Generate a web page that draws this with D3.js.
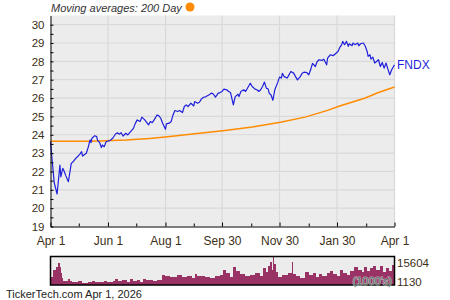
<!DOCTYPE html>
<html>
<head lang="en">
	<meta charset="UTF-8">
	<title>FNDX</title>
	<style>
	body { margin: 0; background: #fff; }
	svg text { font-family: "Liberation Sans", Arial, sans-serif; }
	.axis text { fill: #3c2f16; font-size: 11.5px; }
	.axis.x text { font-size: 12px; }
	.axis path, .axis line { stroke: #000; }
	.grid line { stroke: #d9d9d9; stroke-width: 1.2; }
	</style>
	<script src="https://cdn.jsdelivr.net/npm/d3@7"></script>
</head>
<body>
<script>
	// price (daily-ish closes)
	var priceDates = [
		"2025-04-01","2025-04-03","2025-04-05","2025-04-08","2025-04-11","2025-04-12","2025-04-14","2025-04-15",
		"2025-04-17","2025-04-20","2025-04-23","2025-04-25","2025-04-28","2025-05-02","2025-05-04","2025-05-05",
		"2025-05-09","2025-05-11","2025-05-13","2025-05-14","2025-05-15","2025-05-18","2025-05-20","2025-05-21",
		"2025-05-23","2025-05-25","2025-05-26","2025-05-28","2025-05-30","2025-06-01","2025-06-03","2025-06-06",
		"2025-06-09","2025-06-11","2025-06-13","2025-06-15","2025-06-17","2025-06-20","2025-06-22","2025-06-25",
		"2025-06-28","2025-06-30","2025-07-02","2025-07-05","2025-07-07","2025-07-10","2025-07-14","2025-07-16",
		"2025-07-18","2025-07-20","2025-07-23","2025-07-25","2025-07-27","2025-07-29","2025-08-01","2025-08-02",
		"2025-08-05","2025-08-07","2025-08-09","2025-08-11","2025-08-14","2025-08-16","2025-08-19","2025-08-21",
		"2025-08-23","2025-08-25","2025-08-28","2025-08-31","2025-09-01","2025-09-04","2025-09-06","2025-09-08",
		"2025-09-10","2025-09-13","2025-09-16","2025-09-19","2025-09-21","2025-09-23","2025-09-26","2025-09-28",
		"2025-09-30","2025-10-02","2025-10-05","2025-10-07","2025-10-09","2025-10-12","2025-10-14","2025-10-17",
		"2025-10-18","2025-10-20","2025-10-23","2025-10-25","2025-10-28","2025-10-30","2025-11-01","2025-11-04",
		"2025-11-06","2025-11-08","2025-11-10","2025-11-12","2025-11-14","2025-11-16","2025-11-18","2025-11-19",
		"2025-11-21","2025-11-23","2025-11-25","2025-11-28","2025-11-30","2025-12-02","2025-12-03","2025-12-05",
		"2025-12-08","2025-12-09","2025-12-12","2025-12-15","2025-12-17","2025-12-19","2025-12-22","2025-12-24",
		"2025-12-26","2025-12-29","2025-12-31","2026-01-02","2026-01-04","2026-01-07","2026-01-09","2026-01-11",
		"2026-01-14","2026-01-16","2026-01-19","2026-01-20","2026-01-23","2026-01-26","2026-01-28","2026-01-31",
		"2026-02-02","2026-02-04","2026-02-05","2026-02-07","2026-02-09","2026-02-11","2026-02-12","2026-02-15",
		"2026-02-16","2026-02-18","2026-02-21","2026-02-22","2026-02-24","2026-02-27","2026-03-01","2026-03-03",
		"2026-03-04","2026-03-06","2026-03-07","2026-03-09","2026-03-11","2026-03-13","2026-03-15","2026-03-17",
		"2026-03-19","2026-03-21","2026-03-23","2026-03-25","2026-03-27","2026-03-29","2026-03-31","2026-04-01"
	];
	var prices = [
		23.62,22.46,21.37,20.77,22.35,21.70,22.17,22.08,
		21.80,21.44,22.44,22.53,22.72,22.93,23.08,22.84,
		22.99,23.32,23.72,23.57,23.81,23.95,23.90,23.68,
		23.59,23.30,23.44,23.35,23.62,23.66,23.68,23.81,
		24.04,24.11,24.03,24.11,23.93,24.08,23.99,24.17,
		24.35,24.62,24.81,24.72,24.96,24.81,24.54,24.72,
		24.66,24.81,25.08,25.03,24.90,24.63,24.30,24.59,
		24.63,24.72,25.08,25.32,25.27,25.32,25.21,25.54,
		25.63,25.54,25.72,25.57,25.81,25.72,25.77,25.94,
		26.03,26.08,26.17,26.27,26.21,26.05,26.27,26.30,
		26.36,26.49,26.45,26.36,26.30,25.63,26.08,26.21,
		26.08,26.36,26.45,26.36,26.63,26.81,26.63,26.49,
		26.45,26.36,26.45,26.63,26.87,26.54,26.49,26.27,
		26.17,25.88,26.45,26.84,27.14,27.09,27.35,27.17,
		27.09,27.17,27.45,27.36,27.17,26.99,27.17,27.35,
		27.41,27.39,27.27,27.54,27.89,27.72,27.99,28.09,
		28.05,28.12,27.81,28.18,28.36,28.31,28.40,28.54,
		28.76,28.91,29.09,28.91,29.09,28.82,28.96,28.85,
		29.00,28.91,29.00,28.85,28.96,29.00,28.82,28.54,
		28.27,28.36,28.12,28.23,27.91,27.99,28.09,27.72,
		27.94,27.63,27.91,27.58,27.27,27.54,27.72,27.81
	];

	// 200 day moving average
	var maDates = ["2025-04-01","2025-05-15","2025-06-20","2025-07-15","2025-08-01","2025-09-01","2025-10-01",
		"2025-11-01","2025-12-01","2025-12-27","2026-01-20","2026-02-01","2026-03-01","2026-03-15","2026-04-01"];
	var maValues = [23.64,23.65,23.71,23.80,23.88,24.05,24.22,24.42,24.68,24.96,25.33,25.55,26.00,26.30,26.60];

	// volume (1000's), each value holds until the next date
	var volDates = [
		"2025-04-01","2025-04-04","2025-04-07","2025-04-09","2025-04-11","2025-04-12","2025-04-13","2025-04-14",
		"2025-04-16","2025-04-20","2025-04-22","2025-04-24","2025-04-30","2025-05-04","2025-05-05","2025-05-06",
		"2025-05-11","2025-05-15","2025-05-18","2025-05-24","2025-05-28","2025-05-31","2025-06-06","2025-06-08",
		"2025-06-12","2025-06-16","2025-06-21","2025-06-24","2025-06-28","2025-07-02","2025-07-05","2025-07-08",
		"2025-07-11","2025-07-16","2025-07-19","2025-07-23","2025-07-28","2025-08-01","2025-08-06","2025-08-13",
		"2025-08-19","2025-08-24","2025-08-29","2025-09-01","2025-09-03","2025-09-12","2025-09-17","2025-09-23",
		"2025-09-28","2025-10-01","2025-10-04","2025-10-08","2025-10-12","2025-10-15","2025-10-19","2025-10-24",
		"2025-10-30","2025-11-04","2025-11-09","2025-11-12","2025-11-16","2025-11-18","2025-11-20","2025-11-22",
		"2025-11-23","2025-11-24","2025-11-26","2025-11-28","2025-12-03","2025-12-09","2025-12-13","2025-12-14",
		"2025-12-17","2025-12-22","2025-12-27","2025-12-31","2026-01-05","2026-01-08","2026-01-11","2026-01-14",
		"2026-01-19","2026-01-23","2026-01-26","2026-01-30","2026-02-02","2026-02-05","2026-02-10","2026-02-13",
		"2026-02-17","2026-02-21","2026-02-25","2026-02-28","2026-03-03","2026-03-06","2026-03-09","2026-03-12",
		"2026-03-17","2026-03-20","2026-03-23","2026-03-26","2026-03-29","2026-03-31"
	];
	var volumes = [
		4400,8300,9900,12100,9900,6600,3900,2400,
		2200,3300,2200,1700,2200,1200,15150,1200,
		1700,2200,1700,1400,2200,1700,2500,3300,
		2500,2750,1900,3300,2200,3000,1900,3600,
		2750,2750,2500,3000,5500,5000,4400,5500,
		4400,5000,3900,6100,5000,4400,3900,5000,
		5500,8300,6600,4400,9900,7700,6100,5000,
		5500,6600,5000,9400,7200,10500,12700,8300,
		15604,11600,7200,4400,5500,6600,12700,6100,
		5000,3900,7200,5500,6600,4400,6100,5000,
		6600,7700,6100,5000,8300,6600,5500,7700,
		9900,8300,7200,9900,7700,9400,10500,8300,
		10500,7200,9400,7700,11000,1130
	];

	var xTickDates = ["2025-04-01","2025-05-01","2025-06-01","2025-07-01","2025-08-01","2025-08-31","2025-09-30",
		"2025-10-31","2025-11-30","2025-12-31","2026-01-30","2026-03-02","2026-04-01"];
	var xTickLabels = ["Apr 1","","Jun 1","","Aug 1","","Sep 30","","Nov 30","","Jan 30","","Apr 1"];
	var volLabels = [15604, 1130];

	window.onload = function(){
		var width = 450, height = 300;
		var parse = d3.timeParse("%Y-%m-%d");
		var start = parse("2025-04-01"), end = parse("2026-04-01");

		var svg = d3.select("body").append("svg")
			.attr("width", width)
			.attr("height", height);

		var x = d3.scaleTime().domain([start, end]).range([50.5, 394.5]);
		var y = d3.scaleLinear().domain([19, 30.5]).range([226.5, 15.5]);
		var yv = d3.scaleLinear().domain([0, 15604]).range([285, 257]);

		// plot background
		svg.append("rect")
			.attr("x", x.range()[0]).attr("y", y.range()[1])
			.attr("width", x.range()[1] - x.range()[0])
			.attr("height", y.range()[0] - y.range()[1])
			.attr("fill", "#ececec");

		// grid
		var grid = svg.append("g").attr("class", "grid");
		grid.selectAll(".h").data(d3.range(20, 31)).enter().append("line")
			.attr("x1", x.range()[0]).attr("x2", x.range()[1])
			.attr("y1", function(d){ return y(d); })
			.attr("y2", function(d){ return y(d); });
		var tickDates = xTickDates.map(parse);
		grid.selectAll(".v").data(tickDates.filter(function(d, i){ return i > 0 && xTickLabels[i]; }))
			.enter().append("line")
			.attr("x1", function(d){ return x(d); })
			.attr("x2", function(d){ return x(d); })
			.attr("y1", y.range()[1]).attr("y2", y.range()[0]);

		// moving average
		var ma = maDates.map(function(d, i){ return [parse(d), maValues[i]]; });
		svg.append("path").datum(ma)
			.attr("fill", "none")
			.attr("stroke", "#ff8c00")
			.attr("stroke-width", 1.5)
			.attr("d", d3.line().x(function(d){ return x(d[0]); }).y(function(d){ return y(d[1]); }));

		// price line
		var px = priceDates.map(function(d, i){ return [parse(d), prices[i]]; });
		svg.append("path").datum(px)
			.attr("fill", "none")
			.attr("stroke", "#1f1fdc")
			.attr("stroke-width", 1.2)
			.attr("stroke-linejoin", "round")
			.attr("d", d3.line().x(function(d){ return x(d[0]); }).y(function(d){ return y(d[1]); }));

		// axes
		var yTicks = d3.range(19, 30.01, 0.5);
		svg.append("g").attr("class", "axis")
			.attr("transform", "translate(" + x.range()[0] + ",0)")
			.call(d3.axisLeft(y).tickValues(yTicks).tickSizeInner(-3).tickSizeOuter(0).tickPadding(6)
				.tickFormat(function(d){ return d % 1 === 0 ? d : ""; }));

		svg.append("g").attr("class", "axis x")
			.attr("transform", "translate(0," + y.range()[0] + ")")
			.call(d3.axisBottom(x).tickValues(tickDates).tickSizeInner(-4).tickSizeOuter(0).tickPadding(10)
				.tickFormat(function(d, i){ return xTickLabels[i]; }))
			.selectAll(".tick line").attr("y2", function(d, i){ return xTickLabels[i] ? -4 : -3; });

		// right label
		svg.append("text")
			.attr("x", 397).attr("y", y(prices[prices.length - 1]) + 4)
			.attr("fill", "#1f1fdc").attr("font-size", "12px")
			.text("FNDX");

		// title
		svg.append("text")
			.attr("x", 51).attr("y", 11.5)
			.attr("font-size", "11px").attr("font-style", "italic")
			.attr("fill", "#333")
			.text("Moving averages: 200 Day");
		svg.append("circle")
			.attr("cx", 190).attr("cy", 7).attr("r", 4.5)
			.attr("fill", "#ff8c00");

		// volume panel
		svg.append("rect")
			.attr("x", x.range()[0]).attr("y", 256.5)
			.attr("width", x.range()[1] - x.range()[0]).attr("height", 28.5)
			.attr("fill", "#ececec");
		var vd = volDates.map(parse);
		svg.append("g").selectAll("rect").data(volumes).enter().append("rect")
			.attr("x", function(d, i){ return x(vd[i]); })
			.attr("width", function(d, i){ return x(i + 1 < vd.length ? vd[i + 1] : end) - x(vd[i]); })
			.attr("y", function(d){ return yv(d); })
			.attr("height", function(d){ return yv(0) - yv(d); })
			.attr("fill", "#993366")
			.attr("shape-rendering", "crispEdges");
		svg.append("rect")
			.attr("x", x.range()[0]).attr("y", 256.5)
			.attr("width", x.range()[1] - x.range()[0]).attr("height", 28.5)
			.attr("fill", "none").attr("stroke", "#000").attr("stroke-width", 1.5);

		svg.append("text")
			.attr("x", 392).attr("y", 285)
			.attr("text-anchor", "end").attr("font-size", "11px")
			.attr("fill", "#4f7565").attr("stroke", "#e4e4e4").attr("stroke-width", 1.2)
			.attr("stroke-opacity", 0.7)
			.attr("paint-order", "stroke")
			.text("(1000's)");

		svg.selectAll(".vlab").data(volLabels).enter().append("text")
			.attr("x", 397)
			.attr("y", function(d, i){ return i ? 286 : 267; })
			.attr("font-size", "11.5px").attr("fill", "#3c2f16")
			.text(function(d){ return d; });

		// footer
		svg.append("text")
			.attr("x", 6).attr("y", 298)
			.attr("font-size", "11px").attr("fill", "#222")
			.text("TickerTech.com  Apr 1, 2026");
	};
</script>
</body>
</html>
